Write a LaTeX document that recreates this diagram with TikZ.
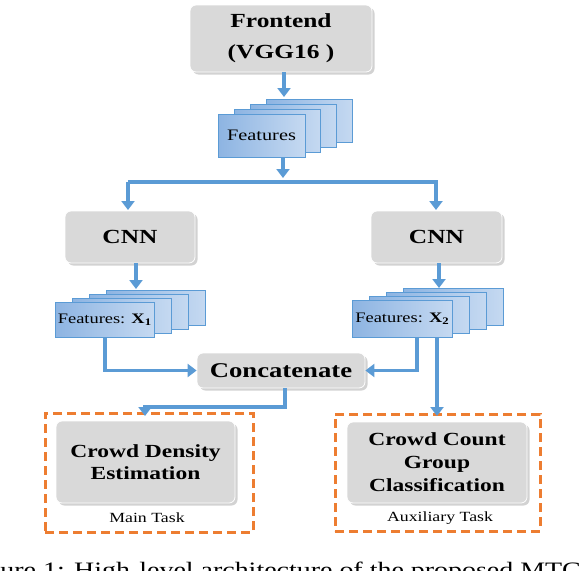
\documentclass[tikz,border=0pt]{standalone}
\usepackage{fontspec}
\setmainfont{Liberation Serif}[FakeStretch=1.27]
\usetikzlibrary{arrows.meta,shadows,calc}
\definecolor{arrblue}{HTML}{5B9BD5}
\definecolor{featA}{HTML}{8DB4E2}
\definecolor{featB}{HTML}{C5D9F1}
\definecolor{boxgray}{HTML}{D9D9D9}
\definecolor{dashorange}{HTML}{ED7D31}
\newcommand{\featsub}[1]{\textbf{X}\raisebox{-2.5pt}{\fontsize{10}{10}\selectfont\bfseries #1}}
\tikzset{
  graybox/.style={draw=white, line width=0.8pt, fill=boxgray, rounded corners=6pt,
    drop shadow={shadow xshift=2.5pt, shadow yshift=-2.5pt, opacity=0.35},
    inner sep=0pt, align=center, font=\fontsize{20}{23}\selectfont\bfseries},
  featbox/.style={draw=arrblue, line width=0.6pt, left color=featA, right color=featB,
    inner sep=0pt, anchor=center},
  arr/.style={draw=arrblue, line width=3.5pt, -{Triangle[width=13pt,length=9pt]}},
  ln/.style={draw=arrblue, line width=3.5pt},
  taskbox/.style={draw=dashorange, line width=3pt, dash pattern=on 9pt off 5pt, inner sep=0pt},
  tasklabel/.style={font=\fontsize{14}{16}\selectfont, inner sep=0pt}
}
\begin{document}
\begin{tikzpicture}[x=1pt,y=-1pt]
\clip (0,0) rectangle (580,570);
\fill[white] (0,0) rectangle (580,570);

% Frontend
\node[graybox, minimum width=182pt, minimum height=67pt] (front) at (281,38.5) {Frontend\\[8pt](VGG16 )};

% Features stack
\foreach \k/\nm in {3/fb3,2/fb2,1/fb1}{
  \node[featbox, minimum width=86pt, minimum height=43pt] (\nm) at ({261.5+16*\k},{135.5-5*\k}) {};
}
\node[featbox, minimum width=87pt, minimum height=43pt, font=\fontsize{16}{18}\selectfont] (feat) at (261.5,135.5) {Features};

% CNN boxes
\node[graybox, minimum width=130pt, minimum height=52pt] (cnn1) at (130,237) {CNN};
\node[graybox, minimum width=131pt, minimum height=52pt] (cnn2) at (436.5,237) {CNN};

% Features X1 stack
\foreach \k/\nm in {3/fa3,2/fa2,1/fa1}{
  \node[featbox, minimum width=99pt, minimum height=35pt] (\nm) at ({104.5+17*\k},{319.5-4*\k}) {};
}
\node[featbox, minimum width=99pt, minimum height=35pt, font=\fontsize{14.5}{17}\selectfont] (f1) at (104.5,319.5) {Features: \featsub{1}};

% Features X2 stack
\foreach \k/\nm in {3/fc3,2/fc2,1/fc1}{
  \node[featbox, minimum width=100pt, minimum height=37pt] (\nm) at ({402+17*\k},{318.5-4*\k}) {};
}
\node[featbox, minimum width=100pt, minimum height=37pt, font=\fontsize{14.5}{17}\selectfont] (f2) at (402,318.5) {Features: \featsub{2}};

% Concatenate
\node[graybox, minimum width=168pt, minimum height=35pt, font=\fontsize{21}{23}\selectfont\bfseries] (concat) at (281,370.5) {Concatenate};

% Task boxes
\node[taskbox, minimum width=208pt, minimum height=119pt] (mainT) at (149,472.5) {};
\node[graybox, minimum width=179pt, minimum height=82pt, font=\fontsize{18.5}{22}\selectfont\bfseries] (dens) at (145.5,462) {Crowd Density\\Estimation};
\node[tasklabel] (mainL) at (147,518) {Main Task};

\node[taskbox, minimum width=205pt, minimum height=117pt] (auxT) at (437.5,472.5) {};
\node[graybox, minimum width=180pt, minimum height=81pt, font=\fontsize{18.5}{23}\selectfont\bfseries] (cls) at (437,462.5) {Crowd Count\\Group\\Classification};
\node[tasklabel] (auxL) at (440,518) {Auxiliary Task};

% Caption (cut at bottom in the reference)
\node[font=\fontsize{22}{24}\selectfont, anchor=base west, inner sep=0pt] (cap) at (-37,577) {Figure 1: High-level architecture of the proposed MTCNN};

% Connectors
\coordinate (split) at (283,182);
\draw[arr] (front.south -| 284,0) -- (284,97);
\draw[arr] (feat.south -| split) -- (283,178);
\draw[ln, line cap=rect] (cnn1.north |- split) -- (cnn2.north |- split);
\draw[arr] (128,182) -- (128,210);
\draw[arr] (436,182) -- (436,210);
\draw[arr] (cnn1.south -| 136,0) -- (136,289);
\draw[arr] (cnn2.south -| 439,0) -- (439,288);
\draw[arr] (105,337) |- (concat.west);
\draw[arr] (417,337) |- (concat.east);
\draw[arr] (437,337) -- (437,416);
\draw[arr] (concat.south -| 285,0) -- (285,407) -| (145,416);
\end{tikzpicture}
\end{document}
